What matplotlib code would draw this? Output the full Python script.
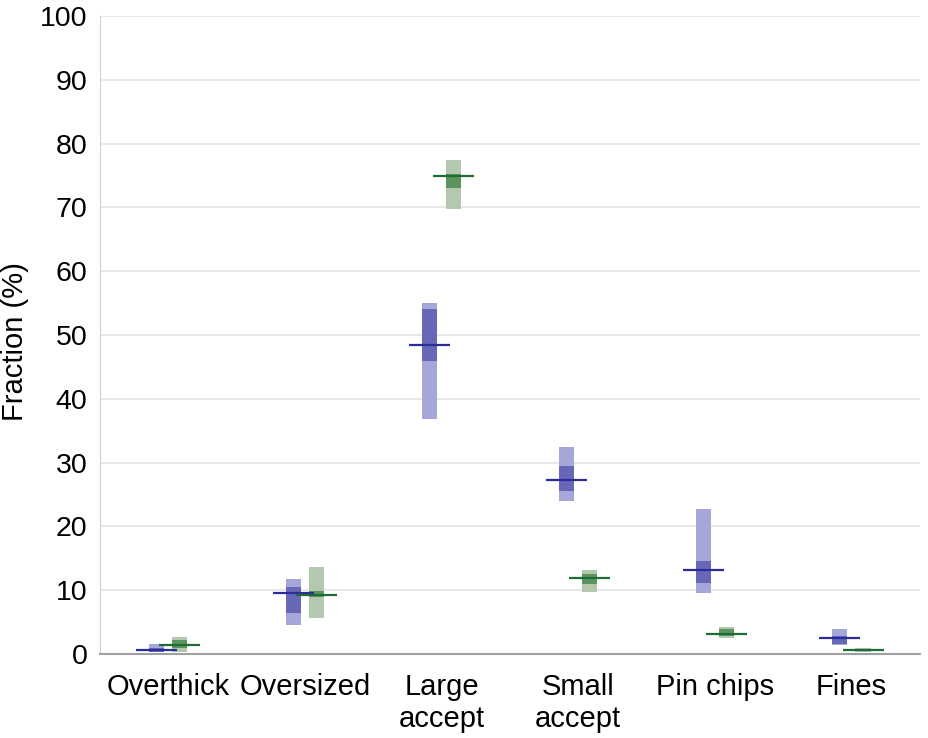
import matplotlib
matplotlib.use("Agg")
import matplotlib.pyplot as plt
import numpy as np

plt.rcParams['font.family'] = ['Liberation Sans', 'DejaVu Sans']

categories = ["Overthick", "Oversized", "Large\naccept", "Small\naccept", "Pin chips", "Fines"]

# Series A (blue)
a_min = [0.3, 4.6, 36.8, 24.0, 9.6, 1.4]
a_q1 = [0.3, 6.5, 45.9, 25.5, 11.1, 1.6]
a_med = [0.7, 9.6, 48.5, 27.2, 13.1, 2.5]
a_q3 = [1.0, 10.5, 54.1, 29.4, 14.6, 2.9]
a_max = [1.5, 11.7, 55.0, 32.5, 22.7, 3.9]

# Series B (green)
b_min = [0.3, 5.7, 69.7, 9.7, 2.5, 0.3]
b_q1 = [1.0, 9.0, 73.0, 11.0, 2.8, 0.4]
b_med = [1.45, 9.2, 75.0, 11.9, 3.2, 0.7]
b_q3 = [2.2, 9.9, 75.3, 12.5, 3.9, 0.8]
b_max = [2.6, 13.7, 77.4, 13.2, 4.3, 0.95]

fig = plt.figure(figsize=(9.29, 7.38), dpi=100)
ax = fig.add_axes([0.1076, 0.1138, 0.8824, 0.8645])

x = np.arange(len(categories))
off = 0.085
bw = 0.11
mw = 0.30

series = [
    (a_min, a_q1, a_med, a_q3, a_max, -off, "#a6a6d8", "#6767b8", "#2b2b9c"),
    (b_min, b_q1, b_med, b_q3, b_max, off, "#b3c8ae", "#5a955f", "#1e6b35"),
]
for mn, q1, md, q3, mx, o, lc, dc, mc in series:
    mn, q1, md, q3, mx = map(np.array, (mn, q1, md, q3, mx))
    ax.bar(x + o, mx - mn, bottom=mn, width=bw, color=lc, zorder=2)
    ax.bar(x + o, q3 - q1, bottom=q1, width=bw, color=dc, zorder=3)
for mn, q1, md, q3, mx, o, lc, dc, mc in series:
    ax.hlines(md, x + o - mw / 2, x + o + mw / 2, color=mc, lw=1.6, zorder=4)

ax.set_xlim(-0.5, len(categories) - 0.5)
ax.set_ylim(0, 100)
ax.set_yticks(np.arange(0, 101, 10))
ax.set_xticks(x)
ax.set_xticklabels(categories, fontsize=21, linespacing=1.15)
ax.tick_params(axis='y', labelsize=20.5, length=0, pad=9)
ax.tick_params(axis='x', length=0, pad=14)
ax.set_ylabel("Fraction (%)", fontsize=21)
ax.yaxis.set_label_coords(-0.086, 0.49)
ax.grid(axis='y', color='#e3e3e3', lw=1.2, zorder=0)
ax.set_axisbelow(True)
for s in ['top', 'right']:
    ax.spines[s].set_visible(False)
ax.spines['left'].set_color('#d0d0d0')
ax.spines['bottom'].set_color('#a0a0a0')
ax.spines['bottom'].set_linewidth(1.5)

fig.savefig("out.png", dpi=100)
